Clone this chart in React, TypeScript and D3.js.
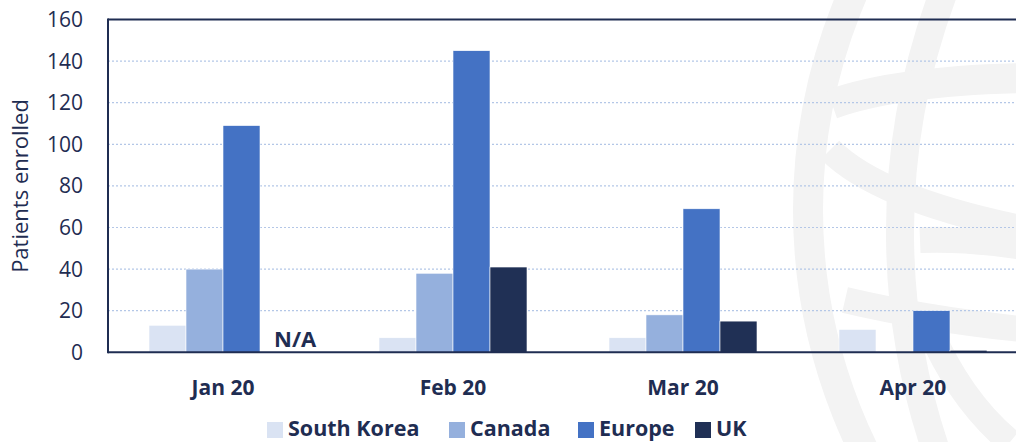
import React from "react";
import * as d3 from "d3";

const categories = ["Jan 20", "Feb 20", "Mar 20", "Apr 20"];
const seriesNames = ["South Korea", "Canada", "Europe", "UK"];
const southKorea = [13, 7, 7, 11];
const canada = [40, 38, 18, 0];
const europe = [109, 145, 69, 20];
const uk: (number | null)[] = [null, 41, 15, 1];
const yTicks = [0, 20, 40, 60, 80, 100, 120, 140, 160];
const colors = ["#dae3f3", "#95b0dd", "#4472c4", "#203055"];

const W = 1016;
const H = 442;
const TEXT = "#1f2d52";

export default function App() {
  const left = 108;
  const top = 19.5;
  const bottom = 352.3;
  const x = d3.scaleBand<string>().domain(categories).range([left, left + 230 * 4]).paddingInner(0).paddingOuter(0);
  const inner = d3.scaleBand<string>().domain(seriesNames).range([0, x.bandwidth()]).paddingInner(0).paddingOuter(41 / 37);
  const y = d3.scaleLinear().domain([0, 160]).range([bottom, top]);
  const data = [southKorea, canada, europe, uk];

  const legendItems = [
    { name: "South Korea", sx: 267, tx: 288 },
    { name: "Canada", sx: 449, tx: 470 },
    { name: "Europe", sx: 578, tx: 599 },
    { name: "UK", sx: 695, tx: 716 },
  ];

  const wm = "#f3f3f3";
  return (
    <svg width={W} height={H} style={{ position: "absolute", left: 0, top: 0, display: "block", background: "#fff" }}>
      {/* watermark globe */}
      <g fill="none" stroke={wm} strokeWidth={30}>
        <circle cx={1354} cy={210} r={546} />
        <circle cx={1581} cy={232} r={681} strokeWidth={28} />
        <path d="M 832 104 Q 900 80 1030 78" />
        <path d="M 830 150 Q 880 200 1030 230" strokeWidth={26} />
        <path d="M 920 240 Q 970 238 1030 248" strokeWidth={26} />
        <path d="M 845 300 Q 930 320 1030 330" strokeWidth={26} />
        <path d="M 930 330 Q 960 400 1010 442" strokeWidth={26} />
      </g>

      {/* gridlines */}
      {yTicks.filter((t) => t > 0 && t < 160).map((t) => (
        <line key={t} x1={left} x2={W} y1={y(t)} y2={y(t)} stroke="#b4c7e7" strokeWidth={1.2} strokeDasharray="2,2" />
      ))}

      {/* bars */}
      {categories.map((c, ci) => (
        <g key={c}>
          {seriesNames.map((s, si) => {
            const v = data[si][ci];
            if (v === null || v === undefined || v === 0) return null;
            const bx = (x(c) as number) + (inner(s) as number);
            return (
              <rect key={s} x={bx} y={y(v)} width={inner.bandwidth()} height={bottom - y(v)} fill={colors[si]} stroke="#ffffff" strokeWidth={0.6} />
            );
          })}
          {data[3][ci] === null && (
            <text
              x={(x(c) as number) + (inner("UK") as number) + 14}
              y={347}
              fontFamily="'Open Sans', sans-serif"
              fontWeight={700}
              fontSize={22}
              fill={TEXT}
            >
              N/A
            </text>
          )}
        </g>
      ))}

      {/* frame */}
      <line x1={left} x2={W} y1={top} y2={top} stroke={TEXT} strokeWidth={2} />
      <line x1={left} x2={left} y1={top - 1} y2={bottom + 1} stroke={TEXT} strokeWidth={2} />
      <line x1={left} x2={W} y1={bottom} y2={bottom} stroke={TEXT} strokeWidth={2} />

      {/* y ticks */}
      {yTicks.map((t) => (
        <text key={t} x={83} y={y(t)} dy="0.36em" textAnchor="end" fontFamily="'Open Sans', sans-serif" fontSize={21} fill={TEXT}>
          {t}
        </text>
      ))}

      {/* y title */}
      <text
        transform={`translate(28,186) rotate(-90)`}
        textAnchor="middle"
        fontFamily="'Open Sans', sans-serif"
        fontSize={22}
        fill={TEXT}
      >
        Patients enrolled
      </text>

      {/* category labels */}
      {categories.map((c) => (
        <text key={c} x={(x(c) as number) + x.bandwidth() / 2} y={395} textAnchor="middle" fontFamily="'Open Sans', sans-serif" fontWeight={700} fontSize={21} fill={TEXT}>
          {c}
        </text>
      ))}

      {/* legend */}
      {legendItems.map((l, i) => (
        <g key={l.name}>
          <rect x={l.sx} y={422} width={16} height={16} fill={colors[i]} />
          <text x={l.tx} y={436} fontFamily="'Open Sans', sans-serif" fontWeight={700} fontSize={21.5} fill={TEXT}>
            {l.name}
          </text>
        </g>
      ))}
    </svg>
  );
}
